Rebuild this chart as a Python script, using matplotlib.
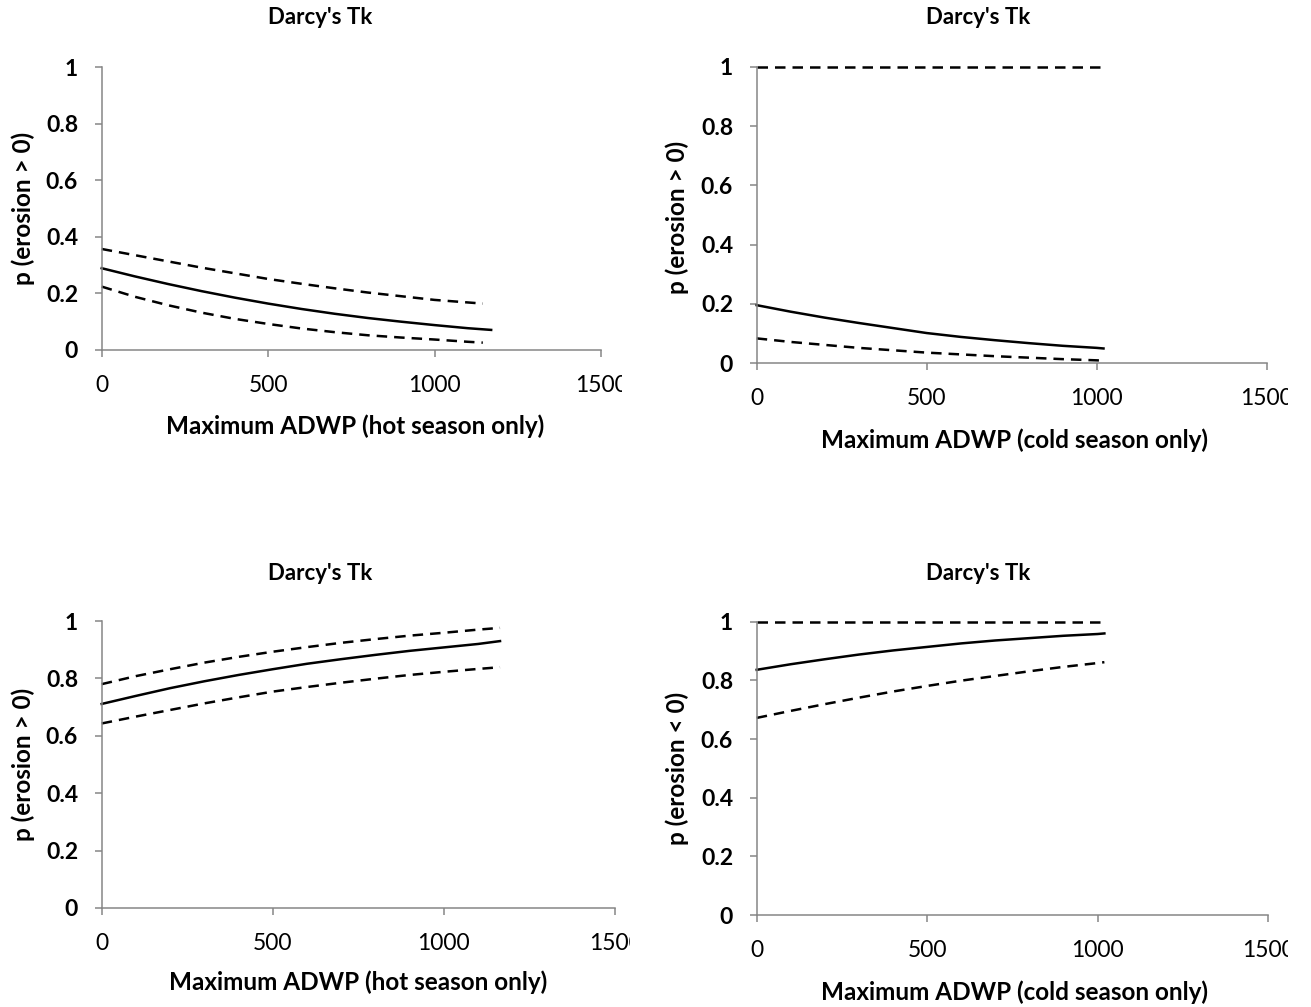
import matplotlib
matplotlib.use('Agg')
import matplotlib.pyplot as plt
from matplotlib.transforms import Bbox, TransformedBbox

plt.rcParams['font.family'] = ['Lato', 'DejaVu Sans']

# Panel 1: hot season, p(erosion > 0), decreasing
x_hot = [0, 100, 200, 300, 400, 500, 600, 700, 800, 900, 1000, 1100, 1170]
p1_fit = [0.289, 0.260, 0.233, 0.208, 0.185, 0.164, 0.145, 0.128, 0.113, 0.100, 0.088, 0.077, 0.071]
x_hot_ci = [0, 100, 200, 300, 400, 500, 600, 700, 800, 900, 1000, 1100, 1145]
p1_upper = [0.357, 0.335, 0.313, 0.291, 0.271, 0.251, 0.234, 0.218, 0.203, 0.190, 0.177, 0.168, 0.164]
p1_lower = [0.224, 0.188, 0.158, 0.132, 0.110, 0.092, 0.076, 0.063, 0.052, 0.044, 0.037, 0.029, 0.026]

# Panel 2: cold season, p(erosion > 0)
x_cold = [0, 100, 200, 300, 400, 500, 600, 700, 800, 900, 1000, 1020]
p2_fit = [0.196, 0.174, 0.154, 0.136, 0.119, 0.102, 0.089, 0.078, 0.068, 0.059, 0.052, 0.050]
p2_upper = [1.0, 1.0, 1.0, 1.0, 1.0, 1.0, 1.0, 1.0, 1.0, 1.0, 1.0, 1.0]
p2_lower = [0.084, 0.072, 0.062, 0.052, 0.044, 0.036, 0.030, 0.024, 0.019, 0.014, 0.010, 0.009]

# Panel 3: hot season, p(erosion > 0), increasing
x_hot3 = [0, 100, 200, 300, 400, 500, 600, 700, 800, 900, 1000, 1100, 1164]
p3_fit = [0.711, 0.739, 0.766, 0.790, 0.812, 0.832, 0.851, 0.867, 0.882, 0.896, 0.908, 0.920, 0.930]
p3_upper = [0.780, 0.808, 0.832, 0.855, 0.875, 0.893, 0.909, 0.924, 0.937, 0.949, 0.959, 0.970, 0.976]
p3_lower = [0.643, 0.667, 0.690, 0.713, 0.734, 0.754, 0.770, 0.785, 0.799, 0.812, 0.823, 0.833, 0.839]

# Panel 4: cold season, p(erosion < 0)
p4_fit = [0.836, 0.855, 0.872, 0.888, 0.902, 0.914, 0.926, 0.936, 0.944, 0.952, 0.958, 0.960]
p4_upper = [1.0, 1.0, 1.0, 1.0, 1.0, 1.0, 1.0, 1.0, 1.0, 1.0, 1.0, 1.0]
p4_lower = [0.672, 0.696, 0.719, 0.741, 0.762, 0.781, 0.799, 0.815, 0.831, 0.846, 0.859, 0.862]

x_ticks = [0, 500, 1000, 1500]
y_ticks = [0, 0.2, 0.4, 0.6, 0.8, 1]
y_tick_labels = ['0', '0.2', '0.4', '0.6', '0.8', '1']

W, H = 1311, 1007
fig = plt.figure(figsize=(W / 100, H / 100), dpi=100)


def px_axes(left, right, top, bottom):
    return fig.add_axes([left / W, 1 - bottom / H, (right - left) / W, (bottom - top) / H])


panels = [
    # axes box (px), title pos, ylabel pos, xlabel pos, clip right edge, data, labels
    dict(box=(101.7, 601, 67, 350), title=(320, 18), ylab=(23, 208), xlab=(355, 426), clip=622,
         x=x_hot, xci=x_hot_ci, fit=p1_fit, up=p1_upper, lo=p1_lower,
         ylabel='p (erosion > 0)', xlabel='Maximum ADWP (hot season only)'),
    dict(box=(756.7, 1266.7, 66.7, 363.3), title=(978, 18), ylab=(677, 217), xlab=(1015, 440), clip=1288,
         x=x_cold, xci=x_cold, fit=p2_fit, up=p2_upper, lo=p2_lower,
         ylabel='p (erosion > 0)', xlabel='Maximum ADWP (cold season only)'),
    dict(box=(101.7, 615, 621, 908), title=(320, 574), ylab=(23, 764), xlab=(358, 982), clip=630,
         x=x_hot3, xci=x_hot3, fit=p3_fit, up=p3_upper, lo=p3_lower,
         ylabel='p (erosion > 0)', xlabel='Maximum ADWP (hot season only)'),
    dict(box=(756.7, 1268, 621.7, 915), title=(978, 574), ylab=(677, 768), xlab=(1015, 992), clip=1288,
         x=x_cold, xci=x_cold, fit=p4_fit, up=p4_upper, lo=p4_lower,
         ylabel='p (erosion < 0)', xlabel='Maximum ADWP (cold season only)'),
]

axis_grey = '#868686'
dash = (0, (4.2, 2.8))

for p in panels:
    ax = px_axes(*p['box'])
    ax.plot(p['x'], p['fit'], color='black', lw=1.8, clip_on=False)
    ax.plot(p['xci'], p['up'], color='black', lw=1.8, ls=dash, clip_on=False)
    ax.plot(p['xci'], p['lo'], color='black', lw=1.8, ls=dash, clip_on=False)

    ax.set_xlim(0, 1500)
    ax.set_ylim(0, 1)
    ax.set_xticks(x_ticks)
    ax.set_xticklabels([str(t) for t in x_ticks])
    ax.set_yticks(y_ticks)
    ax.set_yticklabels(y_tick_labels)

    for side in ['top', 'right']:
        ax.spines[side].set_visible(False)
    for side in ['left', 'bottom']:
        ax.spines[side].set_color(axis_grey)
        ax.spines[side].set_linewidth(1.1)

    ax.tick_params(axis='both', direction='out', length=5, width=1.1, color=axis_grey)
    ax.tick_params(axis='x', labelsize=16.5, pad=13)
    ax.tick_params(axis='y', labelsize=16.5, pad=12)
    for lab in ax.get_yticklabels():
        lab.set_fontweight('bold')

    # labels beyond the chart area get cut off, as in the original
    clip_box = TransformedBbox(Bbox([[0, 0], [p['clip'] / W, 1]]), fig.transFigure)
    for lab in ax.get_xticklabels():
        lab.set_clip_box(clip_box)
        lab.set_clip_on(True)

    fig.text(p['title'][0] / W, 1 - p['title'][1] / H, "Darcy's Tk", ha='center', va='center',
             fontsize=16, fontweight='bold')
    fig.text(p['ylab'][0] / W, 1 - p['ylab'][1] / H, p['ylabel'], ha='center', va='center',
             rotation=90, fontsize=17.5, fontweight='bold')
    fig.text(p['xlab'][0] / W, 1 - p['xlab'][1] / H, p['xlabel'], ha='center', va='center',
             fontsize=17.5, fontweight='bold')

fig.savefig('out.png', dpi=100, facecolor='white')
